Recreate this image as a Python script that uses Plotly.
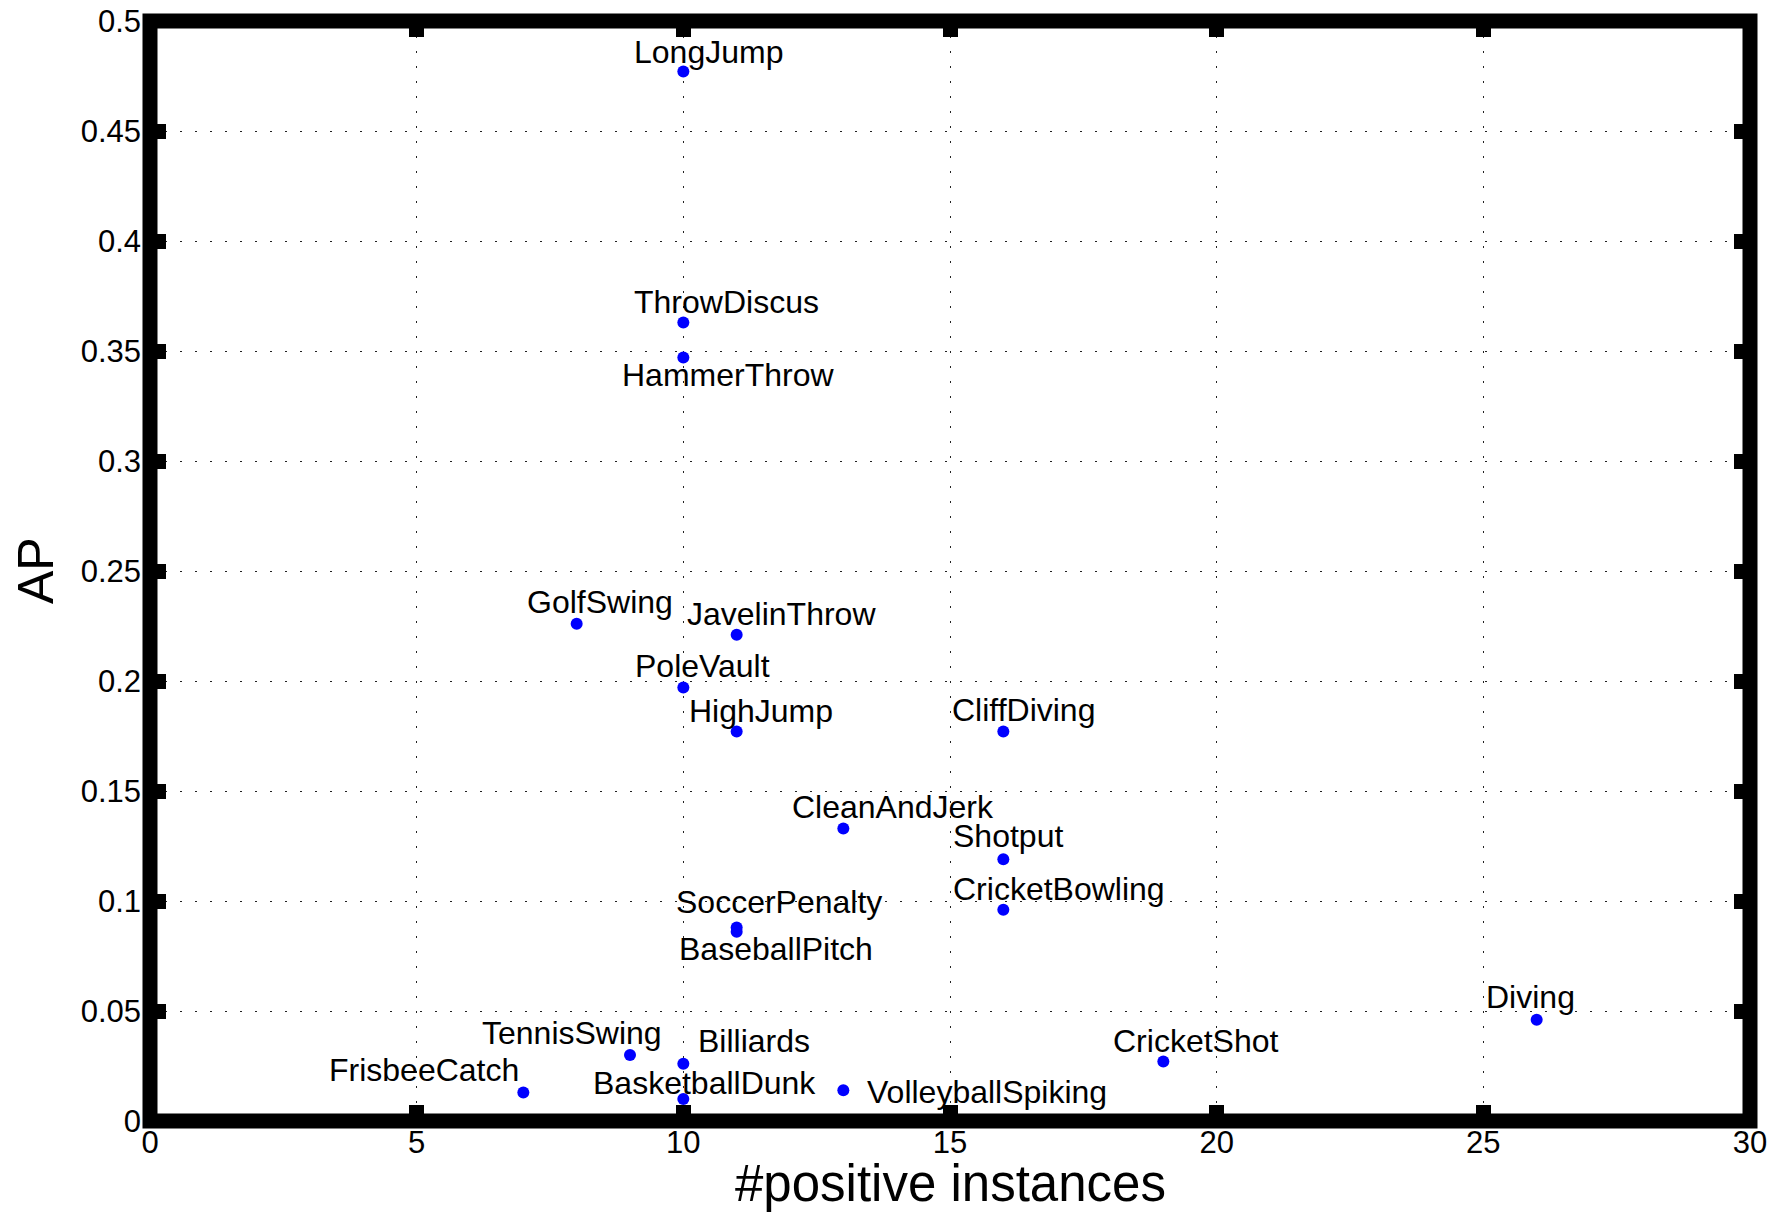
import plotly.graph_objects as go

# Average precision per action class vs. number of positive test instances
actions = [
    "LongJump", "ThrowDiscus", "HammerThrow", "GolfSwing", "JavelinThrow",
    "PoleVault", "HighJump", "CliffDiving", "CleanAndJerk", "Shotput",
    "CricketBowling", "SoccerPenalty", "BaseballPitch", "Diving", "CricketShot",
    "TennisSwing", "Billiards", "FrisbeeCatch", "BasketballDunk", "VolleyballSpiking",
]
n_positive = [10, 10, 10, 8, 11, 10, 11, 16, 13, 16, 16, 11, 11, 26, 19, 9, 10, 7, 10, 13]
ap = [0.477, 0.363, 0.347, 0.226, 0.221, 0.197, 0.177, 0.177, 0.133, 0.119,
      0.096, 0.088, 0.086, 0.046, 0.027, 0.030, 0.026, 0.013, 0.010, 0.014]

x_ticks = [0, 5, 10, 15, 20, 25, 30]
y_ticks = [0, 0.05, 0.1, 0.15, 0.2, 0.25, 0.3, 0.35, 0.4, 0.45, 0.5]
y_tick_text = ["0", "0.05", "0.1", "0.15", "0.2", "0.25", "0.3", "0.35", "0.4", "0.45", "0.5"]

x_title = "#positive instances"
y_title = "AP"

# label placement: pixel offset of the label's left edge / vertical centre from its dot
label_shift = {
    "LongJump": (-51, -20), "ThrowDiscus": (-51, -20), "HammerThrow": (-63, 17),
    "GolfSwing": (-52, -22), "JavelinThrow": (-52, -21), "PoleVault": (-50, -22),
    "HighJump": (-50, -21), "CliffDiving": (-53, -22), "CleanAndJerk": (-53, -21),
    "Shotput": (-52, -23), "CricketBowling": (-52, -21), "SoccerPenalty": (-63, -25),
    "BaseballPitch": (-60, 17), "Diving": (-53, -23), "CricketShot": (-52, -21),
    "TennisSwing": (-150, -22), "Billiards": (13, -23), "FrisbeeCatch": (-196, -22),
    "BasketballDunk": (-92, -16), "VolleyballSpiking": (22, 2),
}

FONT = "Liberation Sans, Arial, Helvetica, sans-serif"

fig = go.Figure()
fig.add_trace(go.Scatter(
    x=n_positive, y=ap, mode="markers",
    marker=dict(color="#0000ff", size=12, line=dict(width=0)),
    hoverinfo="skip", showlegend=False,
))

annotations = []
for name, xv, yv in zip(actions, n_positive, ap):
    dx, dy = label_shift[name]
    annotations.append(dict(
        x=xv, y=yv, xref="x", yref="y", text=name, showarrow=False,
        xanchor="left", yanchor="middle", xshift=dx, yshift=-dy,
        font=dict(family=FONT, size=32, color="black"),
    ))

# axis titles, placed relative to the plot frame
annotations.append(dict(
    x=0.5, y=0, xref="paper", yref="paper", text=x_title, showarrow=False,
    xanchor="center", yanchor="top", yshift=-32,
    font=dict(family=FONT, size=51, color="black"),
))
annotations.append(dict(
    x=0, y=0.5, xref="paper", yref="paper", text=y_title, showarrow=False,
    textangle=-90, xanchor="center", yanchor="middle", xshift=-114,
    font=dict(family=FONT, size=50, color="black"),
))

axis_common = dict(
    ticks="inside", ticklen=16, tickwidth=15, tickcolor="black",
    mirror="ticks", showline=False, zeroline=False,
    showgrid=True, gridcolor="#222222", gridwidth=1, griddash="2px,13px",
    tickfont=dict(family=FONT, size=31, color="black"),
    automargin=False,
)

fig.update_layout(
    template="none",
    width=1785, height=1212,
    margin=dict(l=150, r=35, t=21, b=91, pad=0),
    paper_bgcolor="white", plot_bgcolor="white",
    font=dict(family=FONT, color="black"),
    xaxis=dict(
        range=[0, 30], tickvals=x_ticks, ticktext=[str(v) for v in x_ticks],
        ticklabelstandoff=0, **axis_common,
    ),
    yaxis=dict(
        range=[0, 0.5], tickvals=y_ticks, ticktext=y_tick_text,
        ticklabelstandoff=8, **axis_common,
    ),
    annotations=annotations,
    shapes=[dict(
        type="rect", xref="paper", yref="paper", x0=0, x1=1, y0=0, y1=1,
        line=dict(color="black", width=15), layer="above",
    )],
)

fig.write_html("out.html")
